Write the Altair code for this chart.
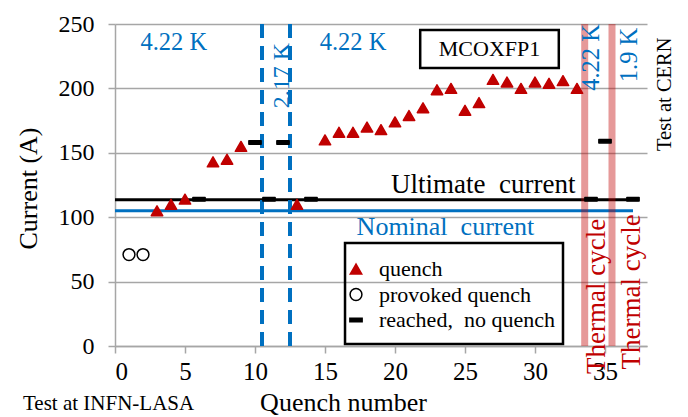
import altair as alt
import pandas as pd

FONT = "Liberation Serif"
BLUE = "#0070C0"
RED = "#C00000"
GRID = "#A6A6A6"

# ---- data ----
quench_n = [3, 4, 5, 7, 8, 9, 13, 15, 16, 17, 18, 19, 20, 21, 22, 23, 24, 25, 26,
            27, 28, 29, 30, 31, 32, 33]
quench_I = [105, 110, 114, 143, 145, 155, 110, 160, 166, 166, 170, 168, 174, 179,
            185, 199, 200, 183, 189, 207, 205, 200, 205, 204, 206, 200]
provoked_n = [1, 2]
provoked_I = [71, 71]
reached_n = [6, 10, 11, 12, 14, 34, 35, 37]
reached_I = [114, 158, 114, 158, 114, 114, 159, 114]

type_labels = ["quench", "provoked\u00a0quench", "reached,\u00a0\u00a0no\u00a0quench"]

ultimate_I = 113.5
ultimate_end = 37.4
nominal_I = 105
nominal_end = 37.0

temperature_change_n = [10.5, 12.5]
thermal_cycle_n = [33.55, 35.5]

x_ticks = [0, 5, 10, 15, 20, 25, 30, 35]
y_ticks = [0, 50, 100, 150, 200, 250]

# ---- scales / axes ----
xs = alt.Scale(domain=[0, 38], nice=False, zero=False)
ys = alt.Scale(domain=[0, 250], nice=False, zero=False)

xaxis = alt.Axis(values=x_ticks, grid=False, domainColor=GRID, domainWidth=1.5,
                 tickColor=GRID, tickSize=7, tickWidth=1.5,
                 labelFont=FONT, labelFontSize=25, labelColor="black", labelPadding=6,
                 title="Quench number", titleFont=FONT, titleFontSize=26,
                 titleFontWeight="normal", titleColor="black",
                 titleX=228, titleY=64, titleAlign="center", titleBaseline="alphabetic")
yaxis = alt.Axis(values=y_ticks, grid=True, gridColor=GRID, gridWidth=1.3,
                 domainColor=GRID, domainWidth=1.5, tickColor=GRID, tickSize=7,
                 tickWidth=1.5, labelFont=FONT, labelFontSize=24, labelColor="black",
                 labelPadding=14,
                 title="Current (A)", titleFont=FONT, titleFontSize=26,
                 titleFontWeight="normal", titleColor="black", titleAngle=270,
                 titleX=-87, titleY=164, titleAlign="center", titleBaseline="middle")


def X(field, **kw):
    return alt.X(field, type="quantitative", scale=xs, axis=xaxis, **kw)


def Y(field, **kw):
    return alt.Y(field, type="quantitative", scale=ys, axis=yaxis, **kw)


# ---- horizontal reference lines ----
lines_df = pd.DataFrame({
    "name": ["ultimate", "nominal"],
    "I": [ultimate_I, nominal_I],
    "start": [0, 0],
    "end": [ultimate_end, nominal_end],
})
ult_line = alt.Chart(lines_df[lines_df.name == "ultimate"]).mark_rule(
    color="black", strokeWidth=3).encode(x=X("start"), x2="end", y=Y("I"))
nom_line = alt.Chart(lines_df[lines_df.name == "nominal"]).mark_rule(
    color=BLUE, strokeWidth=3).encode(x=X("start"), x2="end", y=Y("I"))

# ---- thermal cycle bands ----
bands = alt.Chart(pd.DataFrame({"n": thermal_cycle_n})).mark_rule(
    color=RED, opacity=0.4, strokeWidth=7).encode(x=X("n"))

# ---- temperature change dashed lines ----
dashed = alt.Chart(pd.DataFrame({"n": temperature_change_n})).mark_rule(
    color=BLUE, strokeWidth=4, strokeDash=[14, 8]).encode(x=X("n"))

# ---- points ----
type_col = ([type_labels[0]] * len(quench_n) + [type_labels[1]] * len(provoked_n)
            + [type_labels[2]] * len(reached_n))
pts = pd.DataFrame({
    "n": quench_n + provoked_n + reached_n,
    "I": quench_I + provoked_I + reached_I,
    "type": type_col,
})
bar_path = "M-1,-0.28H1V0.28H-1Z"
leg = alt.Legend(title=None, orient="none", legendX=230, legendY=234,
                 labelFont=FONT, labelFontSize=22, labelColor="black",
                 labelLimit=400, labelOffset=12, rowPadding=3.5, padding=0)
points = alt.Chart(pts).mark_point(filled=True, opacity=1, strokeWidth=1.5,
                                   strokeJoin="round").encode(
    x=X("n"), y=Y("I"),
    shape=alt.Shape("type:N", scale=alt.Scale(domain=type_labels,
                    range=["triangle-up", "circle", bar_path]), legend=leg),
    fill=alt.Fill("type:N", scale=alt.Scale(domain=type_labels,
                  range=[RED, "white", "black"]), legend=leg),
    stroke=alt.Stroke("type:N", scale=alt.Scale(domain=type_labels,
                      range=[RED, "black", "black"]), legend=leg),
    size=alt.Size("type:N", scale=alt.Scale(domain=type_labels,
                  range=[130, 150, 196]), legend=leg),
)

# ---- boxes (legend frame, magnet name frame) ----
box_df = pd.DataFrame({
    "x1": [16.43, 21.8], "x2": [32.0, 31.7],
    "y1": [1.55, 215.8], "y2": [80.0, 245.3],
})
boxes = alt.Chart(box_df).mark_rect(fillOpacity=0, stroke="black",
                                    strokeWidth=2.5).encode(
    x=X("x1"), x2="x2", y=Y("y1"), y2="y2")


def label(text, x, y, color, size, angle=0, baseline="middle"):
    df = pd.DataFrame({"t": [text], "x": [x], "y": [y]})
    return alt.Chart(df).mark_text(font=FONT, fontSize=size, color=color,
                                   angle=angle, align="center",
                                   baseline=baseline, clip=False).encode(
        x=X("x"), y=Y("y"), text="t:N")


texts = [
    label("4.22 K", 4.2, 235.5, BLUE, 24.5),
    label("4.22 K", 17.0, 235.5, BLUE, 24.5),
    label("2.17 K", 11.9, 210, BLUE, 24, angle=270),
    label("4.22 K", 34.1, 224, BLUE, 24.5, angle=270),
    label("1.9 K", 36.75, 226, BLUE, 24.5, angle=270),
    label("Thermal cycle", 34.45, 38.5, RED, 27, angle=270),
    label("Thermal cycle", 36.9, 42, RED, 27, angle=270),
    label("Test at CERN", 39.25, 195.5, "black", 20.5, angle=270),
    label("Ultimate\u00a0\u00a0current", 26.3, 119, "black", 27, baseline="alphabetic"),
    label("Nominal\u00a0\u00a0current", 23.6, 86, BLUE, 26, baseline="alphabetic"),
    label("MCOXFP1", 26.75, 230.5, "black", 22),
    label("Test at INFN-LASA", -0.46, -49.5, "black", 21, baseline="alphabetic"),
]

chart = alt.layer(ult_line, nom_line, bands, dashed, points, boxes, *texts).properties(
    width=532, height=322,
    autosize=alt.AutoSizeParams(type="none"),
    padding={"left": 107, "top": 16, "right": 33, "bottom": 71},
).configure(background="white", font=FONT).configure_view(stroke=None).configure_legend(
    labelFont=FONT, labelFontSize=22, labelLimit=400, labelColor="black")

chart.save("out.html", embed_options={"renderer": "svg", "actions": False})
